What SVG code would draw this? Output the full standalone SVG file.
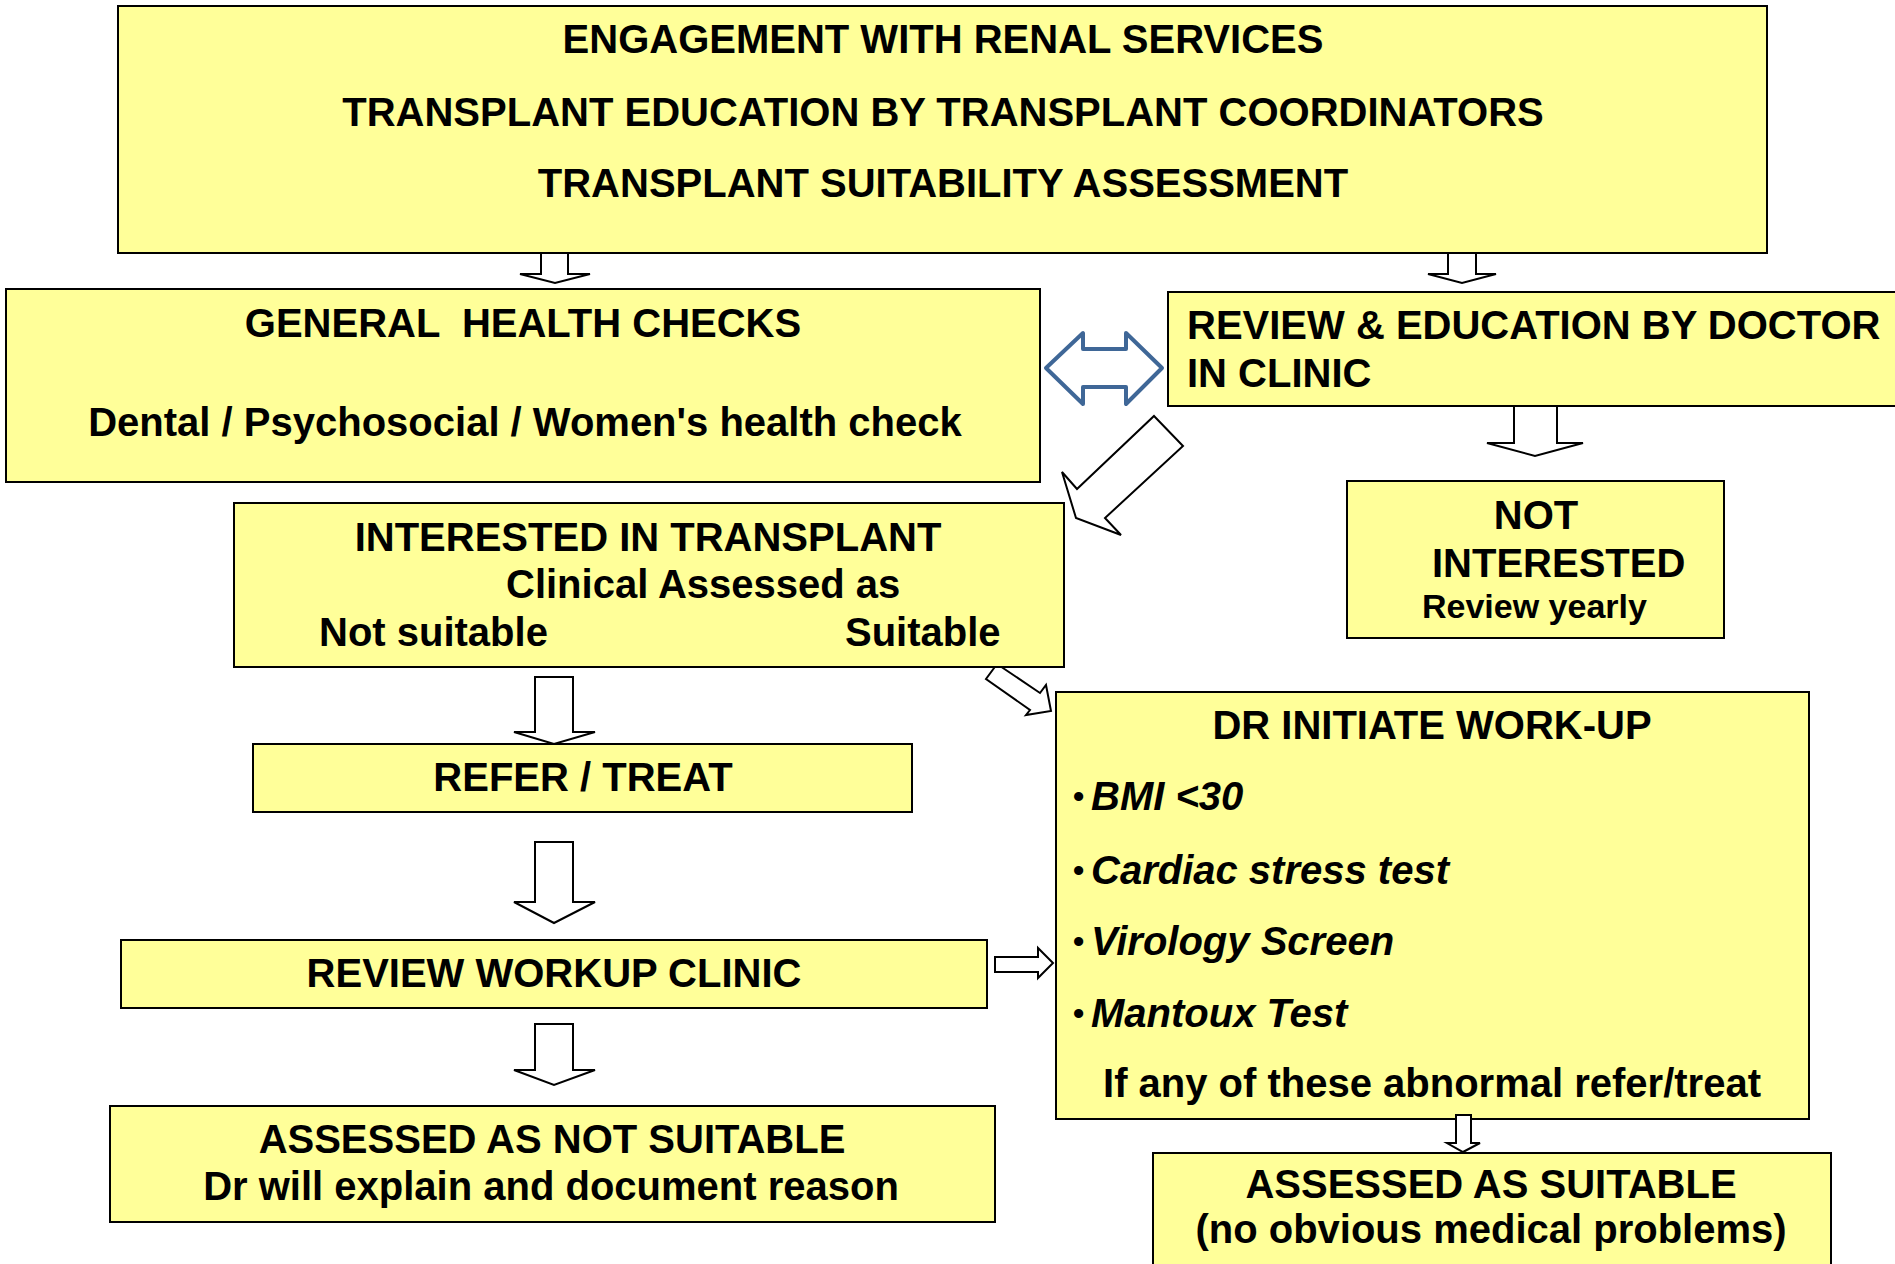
<svg xmlns="http://www.w3.org/2000/svg" width="1895" height="1264" viewBox="0 0 1895 1264">
<style>
.box{fill:#ffff99;stroke:#000;stroke-width:2}
.t{font-family:"Liberation Sans",Arial,sans-serif;font-weight:bold;font-size:40px;fill:#000}
.c{text-anchor:middle}
.i{font-style:italic}
.b{font-family:"Liberation Sans",Arial,sans-serif;font-weight:bold;font-size:32px;fill:#000}
.arr{fill:#fff;stroke:#000;stroke-width:2;stroke-linejoin:miter}
.dbl{fill:#fff;stroke:#3f6797;stroke-width:4;stroke-linejoin:round}
</style>
<rect width="1895" height="1264" fill="#fff"/>
<g id="connectors">
<polygon class="arr" points="541,253 568,253 568,274 590,274 555,283 520,274 541,274"/>
<polygon class="arr" points="1448,253 1476,253 1476,274 1496,274 1462,283 1428,274 1448,274"/>
<polygon class="dbl" points="1046,368 1083,333 1083,349 1126,349 1126,333 1162,368 1126,404 1126,387 1083,387 1083,404"/>
<polygon class="arr" points="1514,406 1557,406 1557,443 1583,443 1535,456 1487,443 1514,443"/>
<polygon class="arr" points="1154,416 1183,446 1105,518 1121,535 1076,518 1062,472 1077,489"/>
<polygon class="arr" points="997,664 1040,693 1046,685 1051,711 1026,715 1030,710 986,679"/>
<polygon class="arr" points="535,677 573,677 573,732 595,732 554,744 514,732 535,732"/>
<polygon class="arr" points="535,842 573,842 573,902 595,902 554,923 514,902 535,902"/>
<polygon class="arr" points="535,1024 573,1024 573,1070 595,1070 554,1085 514,1070 535,1070"/>
<polygon class="arr" points="995,957 1038,957 1038,948 1053,963 1038,978 1038,972 995,972"/>
</g>
<g id="engagement">
<rect class="box" x="118" y="6" width="1649" height="247"/>
<text class="t c" x="943" y="53">ENGAGEMENT WITH RENAL SERVICES</text>
<text class="t c" x="943" y="126">TRANSPLANT EDUCATION BY TRANSPLANT COORDINATORS</text>
<text class="t c" x="943" y="197">TRANSPLANT SUITABILITY ASSESSMENT</text>
</g>
<g id="general-health">
<rect class="box" x="6" y="289" width="1034" height="193"/>
<text class="t c" x="523" y="337" style="white-space:pre">GENERAL  HEALTH CHECKS</text>
<text class="t c" x="525" y="436">Dental / Psychosocial / Women's health check</text>
</g>
<g id="review-education">
<rect class="box" x="1168" y="292" width="800" height="114"/>
<text class="t" x="1187" y="339">REVIEW &amp; EDUCATION BY DOCTOR</text>
<text class="t" x="1187" y="387">IN CLINIC</text>
</g>
<g id="interested">
<rect class="box" x="234" y="503" width="830" height="164"/>
<text class="t c" x="648" y="551">INTERESTED IN TRANSPLANT</text>
<text class="t" x="506" y="598">Clinical Assessed as</text>
<text class="t" x="319" y="646">Not suitable</text>
<text class="t" x="845" y="646">Suitable</text>
</g>
<g id="not-interested">
<rect class="box" x="1347" y="481" width="377" height="157"/>
<text class="t c" x="1536" y="529">NOT</text>
<text class="t" x="1432" y="577">INTERESTED</text>
<text class="t" x="1422" y="618" style="font-size:34px">Review yearly</text>
</g>
<g id="refer-treat">
<rect class="box" x="253" y="744" width="659" height="68"/>
<text class="t c" x="583" y="791">REFER / TREAT</text>
</g>
<g id="review-workup">
<rect class="box" x="121" y="940" width="866" height="68"/>
<text class="t c" x="554" y="987">REVIEW WORKUP CLINIC</text>
</g>
<g id="not-suitable">
<rect class="box" x="110" y="1106" width="885" height="116"/>
<text class="t c" x="552" y="1153">ASSESSED AS NOT SUITABLE</text>
<text class="t c" x="551" y="1200">Dr will explain and document reason</text>
</g>
<g id="workup">
<rect class="box" x="1056" y="692" width="753" height="427"/>
<text class="t c" x="1432" y="739">DR INITIATE WORK-UP</text>
<text class="b" x="1073" y="807">•</text>
<text class="t i" x="1091" y="810">BMI &lt;30</text>
<text class="b" x="1073" y="881">•</text>
<text class="t i" x="1091" y="884">Cardiac stress test</text>
<text class="b" x="1073" y="952">•</text>
<text class="t i" x="1091" y="955">Virology Screen</text>
<text class="b" x="1073" y="1024">•</text>
<text class="t i" x="1091" y="1027">Mantoux Test</text>
<text class="t c" x="1432" y="1097">If any of these abnormal refer/treat</text>
</g>
<polygon class="arr" points="1456,1115 1471,1115 1471,1143 1480,1143 1463,1152 1447,1143 1456,1143"/>
<g id="suitable">
<rect class="box" x="1153" y="1153" width="678" height="150"/>
<text class="t c" x="1491" y="1198">ASSESSED AS SUITABLE</text>
<text class="t c" x="1491" y="1243">(no obvious medical problems)</text>
</g>
</svg>
